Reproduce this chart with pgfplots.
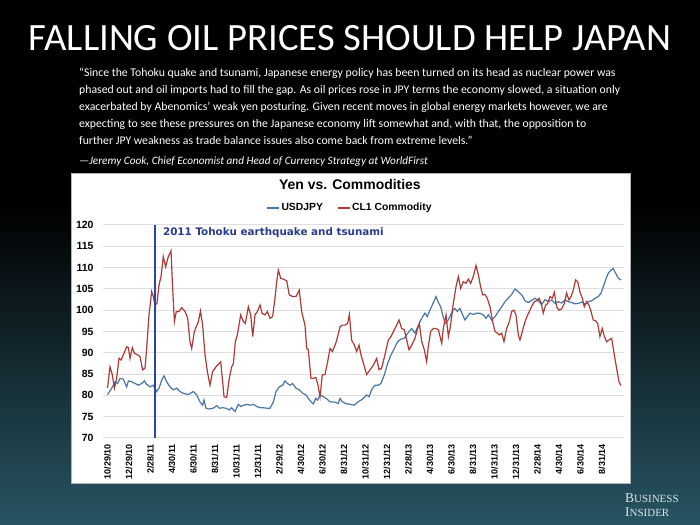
\documentclass[border=0pt]{standalone}
\usepackage{pgfplots}
\pgfplotsset{compat=1.18}
\usepackage{fontspec}
\setmainfont{Liberation Sans}
\newfontfamily\slidefont{Carlito}
\newfontfamily\bifont{Liberation Serif}
\newfontfamily\annfont{DejaVu Sans}
\definecolor{usdblue}{RGB}{72,118,165}
\definecolor{oilred}{RGB}{172,58,55}
\definecolor{quakeblue}{RGB}{40,70,170}
\definecolor{annot}{RGB}{38,60,140}
\definecolor{bgteal}{RGB}{40,84,98}
\definecolor{logo}{RGB}{220,228,232}
\begin{document}
\begin{tikzpicture}[x=1bp,y=1bp]
\useasboundingbox (0,0) rectangle (700,525);
\fill[black] (0,0) rectangle (700,525);
\shade[top color=black, bottom color=bgteal] (0,0) rectangle (700,320);
\node[font=\slidefont\fontsize{38.8}{42}\selectfont, text=white, inner sep=0] at (350,487) {FALLING OIL PRICES SHOULD HELP JAPAN};
\begin{scope}[every node/.style={anchor=base west, inner sep=0, text=white, font=\slidefont\fontsize{11.8}{13}\selectfont}]
\node at (79,448) {“Since the Tohoku quake and tsunami, Japanese energy policy has been turned on its head as nuclear power was};
\node at (79,431) {phased out and oil imports had to fill the gap. As oil prices rose in JPY terms the economy slowed, a situation only};
\node at (79,414) {exacerbated by Abenomics’ weak yen posturing. Given recent moves in global energy markets however, we are};
\node at (79,397) {expecting to see these pressures on the Japanese economy lift somewhat and, with that, the opposition to};
\node at (79,380) {further JPY weakness as trade balance issues also come back from extreme levels.”};
\node[font=\slidefont\itshape\fontsize{11.3}{13}\selectfont] at (79,360) {—Jeremy Cook, Chief Economist and Head of Currency Strategy at WorldFirst};
\end{scope}
\fill[white] (71,42) rectangle (630,352);
\draw[black!30] (71,42) rectangle (630,352);
\begin{axis}[
  at={(103bp,87bp)}, anchor=south west,
  width=521bp, height=213bp, scale only axis,
  xmin=-0.42, xmax=48.05, ymin=70, ymax=120,
  ytick={70,75,...,120},
  xtick={0,2,...,46},
  xticklabels={10/29/10,12/29/10,2/28/11,4/30/11,6/30/11,8/31/11,10/31/11,12/31/11,2/29/12,4/30/12,6/30/12,8/31/12,10/31/12,12/31/12,2/28/13,4/30/13,6/30/13,8/31/13,10/31/13,12/31/13,2/28/14,4/30/14,6/30/14,8/31/14},
  axis line style={draw=none},
  major tick length=0pt,
  ymajorgrids, grid style={color=black!13, line width=1pt},
  /pgf/number format/assume math mode=true,
  yticklabel style={font=\bfseries\fontsize{10.5}{12}\selectfont},
  yticklabel shift=6bp,
  xticklabel style={rotate=90, anchor=east, font=\bfseries\fontsize{9}{10}\selectfont},
  xticklabel shift=3bp,
  title={Yen vs. Commodities},
  title style={at={(0.474,1.16)}, anchor=center, font=\bfseries\fontsize{14}{16}\selectfont},
  legend style={at={(0.474,1.08)}, anchor=center, draw=none, fill=none, font=\bfseries\fontsize{10.4}{12}\selectfont, inner sep=0pt, /tikz/every even column/.append style={column sep=12bp}},
  legend columns=2,
  legend image code/.code={\draw[#1] (0bp,0bp) -- (12bp,0bp);},
]
\addplot[usdblue, line width=1.2pt] coordinates {
(0,80.2) (0.39,81.7) (0.70,83.2) (0.95,82.8) (1.16,84) (1.47,83.8) (1.78,82) (1.94,83.4) (2.25,83.2) (2.56,82.8) (2.87,82.4) (3.18,82.8) (3.43,83.4) (3.64,82.6) (3.95,82) (4.26,82.4) (4.57,80.9) (4.79,81.7) (5.04,83.6) (5.26,84.6) (5.50,83.2) (5.81,82) (6.12,81.3) (6.43,81.7) (6.74,80.9) (7.05,80.5) (7.52,80.2) (7.98,80.9) (8.29,80.1)
(8.60,78.5) (8.85,77.7) (8.98,78.9) (9.16,77) (9.47,76.8) (9.84,77) (10.16,77.6) (10.40,77) (10.71,77.1) (11.02,77) (11.33,76.6) (11.55,77.1) (11.86,76.2) (12.17,77.9) (12.39,77.4) (12.70,77.7) (12.95,77.9) (13.26,77.7) (13.57,77.9) (13.88,77.4) (14.19,77.1) (14.50,77.1) (14.81,77) (15.12,77) (15.43,78.5) (15.67,80.9) (15.98,82) (16.29,82.4) (16.51,83.4) (16.73,82.8) (16.98,82.4) (17.22,82.8) (17.53,81.7) (17.84,81.3) (18.15,80.5) (18.47,80.1)
(18.68,79.3) (18.93,78.5) (19.15,78) (19.37,79.3) (19.55,78.9) (19.77,80.1) (20.08,79.7) (20.39,79.2) (20.70,78.5) (21.16,78.4) (21.47,78.1) (21.63,79.3) (21.84,78.5) (22.15,78.1) (22.56,77.9) (22.96,77.7) (23.27,78.4) (23.58,78.9) (23.81,79.3) (24.11,80.1) (24.33,79.7) (24.57,81.3) (24.88,82.4) (25.19,82.4) (25.44,82.8) (25.75,84.8) (26.06,87.5) (26.37,89.5) (26.68,91) (26.99,92.6) (27.30,93.2) (27.61,93.4) (27.83,94.2) (28.05,95) (28.30,95.7)
(28.60,94.6) (28.82,95.9) (29.07,97.3) (29.32,98.5) (29.53,99.3) (29.75,98.5) (30.00,100) (30.25,101.4) (30.56,103.2) (30.78,101.8) (31.00,100.8) (31.18,98.9) (31.40,96.9) (31.61,97.3) (31.86,98.5) (32.11,100) (32.33,100.4) (32.54,99.7) (32.79,100.4) (33.04,98.9) (33.26,97.7) (33.47,98.5) (33.72,99.3) (34.03,99) (34.34,99.3) (34.65,99.3) (34.96,98.9) (35.21,98.1) (35.43,98.9) (35.74,97.7) (36.05,98.5) (36.36,99.7) (36.67,100.8) (36.98,102) (37.29,102.9) (37.60,103.7) (37.91,105) (38.12,104.5) (38.37,104)
(38.53,103.6) (38.84,102.2) (39.15,101.8) (39.46,102.3) (39.77,102.8) (40.08,102.2) (40.39,101.3) (40.70,102.5) (41.01,102.0) (41.32,102.4) (41.63,101.6) (41.94,102.0) (42.25,101.7) (42.56,102.4) (42.87,102.0) (43.18,101.8) (43.49,101.5) (43.80,101.6) (44.11,101.9) (44.42,101.4) (44.73,102.0) (45.04,102.2) (45.35,102.8) (45.66,103.2) (45.91,104) (46.12,105.5) (46.34,107.1) (46.59,108.7) (46.84,109.4) (47.05,109.8) (47.27,108.7) (47.52,107.5) (47.77,107.1)
};
\addlegendentry{USDJPY}
\addplot[oilred, line width=1.2pt] coordinates {
(0,81.7) (0.23,86.7) (0.45,84.8) (0.64,81.7) (0.85,84) (1.07,88.7) (1.26,88.3) (1.47,89.5) (1.78,91.4) (1.94,91.2) (2.09,88.7) (2.31,91.2) (2.50,89.9) (2.81,89.5) (3.02,89.1) (3.27,86) (3.49,86.4) (3.64,91) (3.86,98.9) (4.11,104.4) (4.26,103.2) (4.42,101.2) (4.60,101.6) (4.79,105.9) (4.98,107.9) (5.19,112.6) (5.41,110.2) (5.66,112.6) (5.91,113.9) (6.03,106.7) (6.22,97.3) (6.40,99.7) (6.65,99.7) (6.90,100.6) (7.21,99.7) (7.46,98.1) (7.67,92.6) (7.83,91) (8.08,95) (8.45,97.3) (8.65,99.8)
(8.85,96.5) (9.07,89.5) (9.29,85.6) (9.53,82.4) (9.78,85.6) (10.09,86.7) (10.31,87.3) (10.53,87.9) (10.71,83.2) (10.84,79.7) (11.09,79.5) (11.33,84) (11.55,86.7) (11.71,87.5) (11.89,92.6) (12.08,94.2) (12.39,98.9) (12.64,97.3) (12.82,96.9) (13.10,100.8) (13.32,98.9) (13.51,93.8) (13.72,98.9) (13.94,99.7) (14.19,101.2) (14.37,99.3) (14.65,98.9) (14.87,99.7) (15.12,98.1) (15.36,98.5) (15.58,102.8) (15.74,106.7) (15.89,109.4) (16.11,107.5) (16.36,107.3) (16.67,106.9) (16.91,103.6) (17.22,103.2) (17.53,103.2) (17.84,104.7) (18.06,99.7) (18.37,96.5)
(18.53,91) (18.68,90.7) (18.93,84) (19.15,84) (19.37,84.2) (19.55,82.8) (19.77,79.7) (19.98,84.8) (20.23,84.9) (20.48,87.9) (20.70,91) (20.92,90.3) (21.23,92.2) (21.41,93.8) (21.63,96.1) (21.84,96.5) (22.09,96.5) (22.34,96.9) (22.50,99) (22.71,93) (22.96,91.8) (23.18,90.3) (23.40,91.8) (23.58,89.5) (23.81,87.5) (24.11,84.9) (24.42,86) (24.73,87.1) (25.04,88.7) (25.26,86) (25.50,86.4) (25.81,89.5) (26.12,93) (26.37,93.8) (26.68,95.4) (26.90,96.5) (27.12,97.7) (27.36,95.7) (27.61,95.4) (27.83,93) (28.05,90.7) (28.30,91.8)
(28.60,93.4) (28.82,95.4) (29.01,96.9) (29.23,92.6) (29.44,91) (29.69,87.9) (29.84,91.4) (30.06,95) (30.31,95.7) (30.56,95.7) (30.78,95.4) (31.09,92.2) (31.24,95.7) (31.49,98.9) (31.71,93.8) (31.92,96.5) (32.17,101.6) (32.42,105.5) (32.64,107.9) (32.85,105.1) (33.10,106.7) (33.35,106.3) (33.57,107.3) (33.78,106.3) (34.03,107.9) (34.28,110.5) (34.50,108.3) (34.71,105.5) (34.90,103.6) (35.11,103.7) (35.33,102.8) (35.58,100.8) (35.83,97.3) (36.05,95) (36.26,94.6) (36.45,94.2) (36.67,94.6) (36.88,92.6) (37.13,95.7) (37.38,97.3) (37.60,99.7) (37.81,100) (38.00,98.9)
(38.22,94.2) (38.37,93) (38.59,95) (38.84,97.3) (39.09,98.9) (39.30,100) (39.52,101.2) (39.71,102) (39.92,102.2) (40.14,102.8) (40.33,101.8) (40.54,99.3) (40.76,101.2) (40.95,101.6) (41.16,103.2) (41.38,102.8) (41.57,104.2) (41.78,100.8) (42.00,100) (42.25,100.3) (42.50,101.6) (42.71,104) (42.93,102.4) (43.12,103.2) (43.33,104.7) (43.55,107.1) (43.74,106.7) (43.95,104.3) (44.17,102.8) (44.36,100.8) (44.57,102) (44.79,101.2) (44.98,99.7) (45.19,97.7) (45.41,97.5) (45.60,96.9) (45.81,93.8) (46.03,95.7) (46.22,93.8) (46.43,92.6) (46.65,93) (46.90,93.4) (47.15,89.5) (47.36,86.4) (47.58,83.2) (47.77,82.3)
};
\addlegendentry{CL1 Commodity}
\addplot[quakeblue, line width=1.5pt, forget plot] coordinates {(4.4,70) (4.4,120)};
\node[anchor=west, inner sep=0, font=\annfont\bfseries\fontsize{10.4}{12}\selectfont, text=annot] at (axis cs:5.15,118.3) {2011 Tohoku earthquake and tsunami};
\end{axis}
\node[anchor=base west, inner sep=0, text=logo, font=\bifont] at (625,22) {{\fontsize{13.5}{14}\selectfont B}{\fontsize{11}{12}\selectfont USINESS}};
\node[anchor=base west, inner sep=0, text=logo, font=\bifont] at (625,8) {{\fontsize{13.5}{14}\selectfont I}{\fontsize{11}{12}\selectfont NSIDER}};
\end{tikzpicture}
\end{document}
